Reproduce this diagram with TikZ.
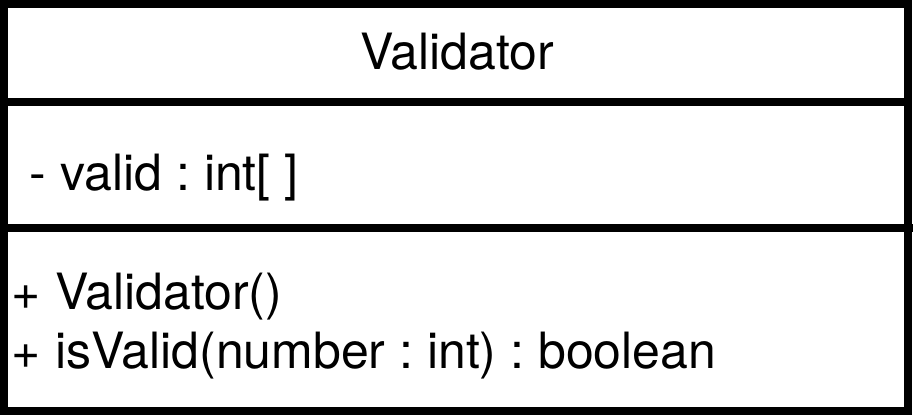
\documentclass[tikz,border=0pt]{standalone}
\usepackage{fontspec}
\setmainfont{TeX Gyre Heros}
\frenchspacing
\begin{document}
\begin{tikzpicture}[x=1pt,y=-1pt,
  border/.style={draw=black,line width=8pt},
  umltext/.style={inner sep=0pt,outer sep=0pt,font=\fontsize{50}{60}\selectfont}]
\useasboundingbox (0,0) rectangle (914,415);
\fill[white] (0,0) rectangle (914,415);
\coordinate (tl) at (4,4);
\coordinate (br) at (908,411);
\coordinate (d1l) at (4,101.5);
\coordinate (d1r) at (908,101.5);
\coordinate (d2l) at (4,228);
\coordinate (d2r) at (913,228);
\draw[border] (tl) rectangle (br);
\draw[border] (d1l) -- (d1r);
\draw[border] (d2l) -- (d2r);
\node[umltext,anchor=base] (title) at (457,69) {Validator};
\node[umltext,anchor=base west] (attr) at (30,190) {- valid : int[ ]};
\node[umltext,anchor=base west] (m1) at (12,309) {+ Validator()};
\node[umltext,anchor=base west] (m2) at (12,368) {+ isValid(number : int) : boolean};
\end{tikzpicture}
\end{document}
